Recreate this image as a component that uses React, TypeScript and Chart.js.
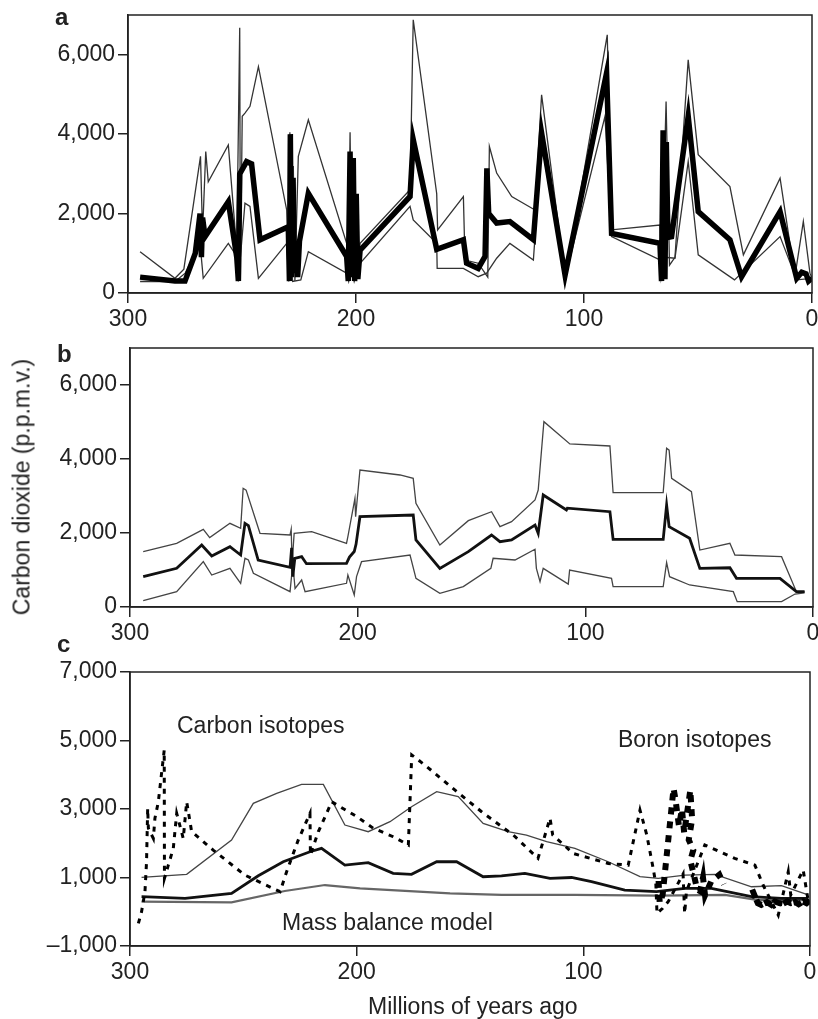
import React, { useEffect, useRef } from "react";
import { Chart, registerables } from "chart.js";
Chart.register(...registerables);

type Pair = [number, number];

// ---- shared axes ----
const X_TICKS = [0, 100, 200, 300];
const Y_TICKS_AB = [0, 2000, 4000, 6000];
const Y_TICKS_C = [-1000, 1000, 3000, 5000, 7000];

// ---- panel a (age Ma, CO2 p.p.m.v.) ----
const A_MID: Pair[] = [[294.7,400],[279.4,300],[275.0,300],[270.5,1000],[268.4,2000],[267.8,900],[267.3,1900],[266.2,1420],[256.0,2300],[252.3,900],[251.6,300],[251.0,3000],[248.0,3310],[245.8,3250],[242.1,1340],[229.7,1670],[229.2,300],[228.8,4000],[228.3,400],[227.6,2900],[227.0,500],[226.3,1200],[225.6,400],[224.8,1300],[220.9,2510],[204.1,920],[203.4,300],[202.6,3560],[201.9,400],[201.2,3400],[200.6,300],[199.9,2500],[199.2,350],[198.2,1080],[176.3,2430],[174.9,3860],[164.6,1100],[152.9,1340],[151.5,750],[146.4,620],[143.4,920],[142.6,3140],[141.8,2000],[138.3,1760],[132.5,1800],[122.2,1340],[118.6,4030],[108.3,450],[90.1,5540],[87.9,1500],[66.7,1250],[66.0,300],[65.3,4100],[64.5,350],[63.9,3800],[63.2,1400],[61.6,1420],[54.3,4450],[49.9,2050],[36.0,1340],[30.9,410],[14.0,2050],[6.7,370],[4.5,520],[2.6,480],[1.5,300],[0,370]];
const A_HI: Pair[] = [[294.7,1040],[279.4,370],[275.5,600],[268.2,3440],[267.3,1500],[265.9,3560],[264.8,2800],[256.0,3730],[252.3,1080],[251.0,6680],[250.7,300],[249.9,4450],[248.7,4530],[246.5,4700],[242.8,5700],[230.4,2090],[229.6,300],[229.0,4050],[228.4,300],[227.5,3200],[226.8,300],[225.3,3440],[220.9,4360],[204.1,1250],[203.5,300],[202.6,4050],[201.8,400],[201.0,3000],[200.2,350],[198.2,1250],[176.3,2600],[174.9,6880],[164.6,2500],[164.2,1590],[152.9,2430],[152.2,830],[146.4,750],[142.2,400],[141.5,3690],[138.3,3020],[131.7,2430],[121.5,2090],[118.6,4990],[108.1,330],[89.8,6500],[87.9,1590],[66.7,1710],[66.1,300],[64.0,4820],[62.5,700],[60.1,900],[54.3,5870],[49.9,3480],[36.0,2680],[30.1,960],[14.0,2890],[7.5,410],[3.8,1800],[0.9,500],[0,380]];
const A_LO: Pair[] = [[294.7,290],[279.4,290],[274.9,500],[268.4,1250],[267.0,370],[256.0,1250],[252.3,920],[251.6,290],[248.7,2260],[246.5,2180],[242.8,370],[230.4,1250],[229.5,290],[228.6,1000],[227.8,290],[224.2,330],[220.9,1040],[204.1,500],[203.2,290],[202.0,600],[200.8,290],[198.2,750],[176.3,2180],[174.9,1840],[164.6,1250],[164.4,620],[152.9,620],[146.4,410],[142.7,500],[138.3,875],[132.5,1250],[122.2,830],[118.6,3770],[108.3,370],[90.8,4450],[87.9,1420],[66.7,830],[66.2,370],[64.5,900],[60.1,875],[54.3,3310],[49.9,960],[34.0,330],[14.0,1420],[6.7,330],[0,370]];

// ---- panel b ----
const B_MID: Pair[] = [[294.2,820],[279.5,1045],[268.5,1676],[264.1,1380],[256.1,1630],[251.4,1405],[249.5,2262],[248.0,2200],[243.7,1270],[229.7,1073],[229.0,1600],[228.5,820],[227.6,1316],[224.6,1360],[222.5,1170],[204.9,1180],[203.6,1350],[201.5,1500],[200.7,1700],[199.0,2440],[175.6,2487],[174.4,1811],[163.9,1045],[151.4,1495],[141.2,1946],[137.5,1766],[132.4,1811],[122.1,2216],[120.7,1992],[118.5,3027],[108.3,2622],[107.9,2670],[89.2,2576],[87.8,1830],[65.8,1830],[64.3,2757],[63.2,2171],[54.2,1856],[49.7,1045],[36.5,1060],[33.6,775],[14.5,775],[7.3,415],[3.7,415]];
const B_HI: Pair[] = [[294.2,1495],[279.5,1721],[267.8,2100],[265.0,1875],[256.1,2262],[251.4,2126],[250.3,3208],[249.0,3160],[242.9,1992],[229.7,1946],[229.2,2100],[228.8,1170],[227.9,1990],[220.2,2036],[204.9,1721],[204.3,1900],[201.2,2937],[200.9,2440],[199.0,3703],[181.4,3568],[175.6,3478],[174.4,2802],[163.9,1676],[151.4,2333],[141.2,2576],[137.5,2171],[132.4,2306],[122.1,2892],[120.7,3162],[118.2,5009],[106.8,4406],[89.2,4352],[87.8,3090],[65.8,3090],[64.3,4290],[63.2,4240],[62.1,3478],[53.4,3117],[49.7,1540],[36.5,1721],[34.3,1405],[13.8,1360],[7.3,415],[3.7,415]];
const B_LO: Pair[] = [[294.2,171],[279.5,415],[267.8,1225],[264.1,865],[256.1,1045],[251.4,640],[249.5,1316],[248.0,1270],[245.8,910],[229.7,415],[228.5,1170],[227.5,500],[224.6,730],[223.1,415],[204.9,640],[204.3,865],[201.5,325],[200.5,820],[198.3,1225],[177.0,1405],[174.4,775],[163.9,370],[153.6,550],[141.5,1045],[140.5,1316],[130.9,1270],[122.1,1560],[121.5,1045],[119.9,685],[118.5,1045],[107.5,621],[106.9,1000],[88.5,775],[87.8,550],[65.8,550],[64.3,1200],[63.0,820],[54.2,595],[35.0,415],[33.3,145],[13.8,145],[7.9,350],[3.7,380]];

// ---- panel c ----
const C_HI: Pair[] = [[294.9,1005],[275.0,1093],[255.2,2094],[245.6,3165],[235.3,3458],[224.3,3720],[214.7,3720],[205.2,2532],[194.9,2337],[185.3,2629],[175.8,3067],[164.7,3505],[155.2,3360],[144.2,2580],[133.2,2337],[125.1,2240],[116.2,2045],[103.7,1850],[89.0,1460],[75.0,1023],[67.0,975],[55.2,1072],[42.0,1093],[25.8,730],[12.6,760],[0.8,490]];
const C_MID: Pair[] = [[294.9,439],[275.7,390],[255.2,536],[243.4,1052],[232.4,1460],[220.6,1753],[215.5,1850],[205.2,1364],[194.9,1432],[183.9,1121],[175.8,1093],[164.7,1460],[155.9,1460],[144.2,1023],[136.1,1050],[125.8,1121],[114.7,975],[105.2,1000],[96.4,877],[81.7,634],[67.7,585],[55.2,684],[43.5,684],[25.8,439],[12.6,390],[0.8,390]];
const C_MASS: Pair[] = [[294.9,293],[255.2,275],[231.7,605],[214.0,780],[198.5,684],[158.8,536],[136.0,490],[103.7,490],[67.0,470],[37.5,490],[22.8,342],[0.8,342]];
const C_CARBON: Pair[] = [[296.3,-340],[294.9,0],[293.4,585],[292.7,1460],[292.2,3020],[291.9,2440],[289.7,2140],[289.0,2730],[287.5,3210],[284.9,4720],[284.8,975],[283.1,1360],[280.9,1850],[279.4,2870],[276.5,2140],[275.0,3210],[272.8,2340],[263.3,1800],[249.3,1070],[233.8,585],[230.9,1170],[225.8,2090],[220.6,2870],[220.4,1660],[216.9,2340],[211.0,3210],[200.0,2780],[192.7,2440],[183.9,2190],[177.2,1950],[175.7,4580],[169.1,4240],[156.6,3550],[144.9,2920],[130.9,2240],[120.0,1560],[116.9,2240],[114.7,2730],[113.5,2240],[104.4,1700],[89.0,1410],[80.2,1360],[75.0,2970],[72.0,2240],[69.2,1270],[68.0,800],[67.5,-50],[65.0,100],[62.5,300],[56.0,1100],[55.3,-50],[54.5,600],[46.4,1950],[33.2,1560],[24.3,1360],[20.7,780],[14.0,-100],[9.6,1170],[8.5,490],[3.0,1220],[1.0,400]];
const C_BORON_EARLY: Pair[] = [[66.8,900],[66.3,250],[65.0,500],[60.2,3600],[59.4,3300],[57.8,2500],[56.5,3000],[55.5,2300],[52.8,3550],[52.0,2700],[53.5,2100],[51.5,1800],[52.8,1500],[50.8,950],[49.8,650],[48.5,600],[47.2,1000],[46.3,480],[43.5,900],[40.0,1080],[38.0,800]];
const C_BORON_LATE: Pair[] = [[25.5,650],[24.0,400],[23.0,250],[21.5,200],[19.0,280],[17.0,200],[15.5,300],[13.5,250],[12.0,230],[10.0,300],[8.5,250],[6.5,280],[5.0,220],[3.0,300],[1.5,250],[0,330]];

const FONT = "'Liberation Sans', Arial, Helvetica, sans-serif";
const W = 818;
const H = 1019;
const INK = "#222";

const pts = (a: Pair[]) => a.map(([x, y]) => ({ x, y }));
const fmt = (v: number) => {
  const s = Math.abs(v).toLocaleString("en-US");
  return v < 0 ? "\u2013" + s : s;
};

const framePlugin = {
  id: "frame",
  afterDraw(chart: any) {
    const { ctx, chartArea: a } = chart;
    ctx.save();
    ctx.strokeStyle = INK;
    ctx.lineWidth = 1.5;
    ctx.strokeRect(a.left, a.top, a.right - a.left, a.bottom - a.top);
    ctx.restore();
  },
};

type Area = { left: number; top: number; right: number; bottom: number };

function line(data: Pair[], color: string, width: number, dash: number[] = [], cap: CanvasLineCap = "butt") {
  return {
    data: pts(data),
    borderColor: color,
    borderWidth: width,
    borderDash: dash,
    borderCapStyle: cap,
    pointRadius: 0,
    fill: false,
    tension: 0,
    borderJoinStyle: "miter" as const,
  };
}

function makeConfig(area: Area, yMin: number, yMax: number, yTicks: number[], datasets: any[]) {
  const yW = 100;
  const xH = 45;
  const grid = {
    display: true,
    drawOnChartArea: false,
    drawTicks: true,
    tickLength: 10,
    color: INK,
    lineWidth: 1.5,
  };
  const tickFont = { family: FONT, size: 23 };
  return {
    type: "line" as const,
    data: { datasets },
    options: {
      animation: false as const,
      responsive: false,
      devicePixelRatio: 1,
      events: [],
      layout: {
        padding: {
          left: area.left - yW,
          top: area.top,
          right: W - area.right,
          bottom: H - area.bottom - xH,
        },
      },
      plugins: { legend: { display: false }, tooltip: { enabled: false } },
      scales: {
        x: {
          type: "linear" as const,
          reverse: true,
          min: 0,
          max: 300,
          afterBuildTicks: (s: any) => {
            s.ticks = X_TICKS.map((v) => ({ value: v }));
          },
          afterFit: (s: any) => {
            s.height = xH;
            s.paddingLeft = 0;
            s.paddingRight = 0;
            s.paddingTop = 0;
            s.paddingBottom = 0;
          },
          grid,
          border: { display: true, color: INK, width: 1.5 },
          ticks: {
            font: tickFont,
            color: INK,
            padding: 3,
            maxRotation: 0,
            autoSkip: false,
            callback: (v: any) => String(v),
          },
        },
        y: {
          type: "linear" as const,
          min: yMin,
          max: yMax,
          afterBuildTicks: (s: any) => {
            s.ticks = yTicks.map((v) => ({ value: v }));
          },
          afterFit: (s: any) => {
            s.width = yW;
            s.paddingLeft = 0;
            s.paddingRight = 0;
            s.paddingTop = 0;
            s.paddingBottom = 0;
          },
          grid,
          border: { display: true, color: INK, width: 1.5 },
          ticks: {
            font: tickFont,
            color: INK,
            padding: 3,
            autoSkip: false,
            callback: (v: any) => fmt(Number(v)),
          },
        },
      },
    },
    plugins: [framePlugin],
  };
}

const AREA_A: Area = { left: 128, top: 15, right: 812, bottom: 293 };
const AREA_B: Area = { left: 130, top: 348, right: 813, bottom: 607 };
const AREA_C: Area = { left: 130, top: 672, right: 810, bottom: 946 };

const txt = (left: number, top: number, size = 23, bold = false): React.CSSProperties => ({
  position: "absolute",
  left,
  top,
  fontFamily: FONT,
  fontSize: size,
  fontWeight: bold ? 700 : 400,
  lineHeight: 1,
  whiteSpace: "nowrap",
  color: INK,
});

export default function App() {
  const ra = useRef<HTMLCanvasElement>(null);
  const rb = useRef<HTMLCanvasElement>(null);
  const rc = useRef<HTMLCanvasElement>(null);

  useEffect(() => {
    const charts: Chart[] = [];
    charts.push(
      new Chart(
        ra.current as HTMLCanvasElement,
        makeConfig(AREA_A, 0, 7000, Y_TICKS_AB, [
          line(A_MID, "#000", 5.5),
          line(A_HI, "#333", 1.3),
          line(A_LO, "#333", 1.3),
        ]) as any
      )
    );
    charts.push(
      new Chart(
        rb.current as HTMLCanvasElement,
        makeConfig(AREA_B, 0, 7000, Y_TICKS_AB, [
          line(B_MID, "#111", 2.8),
          line(B_HI, "#444", 1.3),
          line(B_LO, "#444", 1.3),
        ]) as any
      )
    );
    charts.push(
      new Chart(
        rc.current as HTMLCanvasElement,
        makeConfig(AREA_C, -1000, 7000, Y_TICKS_C, [
          line(C_BORON_EARLY, "#000", 6, [7, 7]),
          line(C_BORON_LATE, "#000", 6, [9, 2]),
          line(C_CARBON, "#000", 3, [5, 6]),
          line(C_MID, "#111", 2.8),
          line(C_HI, "#444", 1.3),
          line(C_MASS, "#666", 2.2),
        ]) as any
      )
    );
    return () => charts.forEach((c) => c.destroy());
  }, []);

  const cv: React.CSSProperties = { position: "absolute", left: 0, top: 0 };

  return (
    <div style={{ position: "absolute", left: 0, top: 0, width: W, height: H, background: "#fff", overflow: "hidden" }}>
      <canvas ref={ra} width={W} height={H} style={cv} />
      <canvas ref={rb} width={W} height={H} style={cv} />
      <canvas ref={rc} width={W} height={H} style={cv} />
      <div style={txt(55, 5, 24, true)}>a</div>
      <div style={txt(57, 342, 24, true)}>b</div>
      <div style={txt(57, 632, 24, true)}>c</div>
      <div style={txt(177, 713.5)}>Carbon isotopes</div>
      <div style={txt(618, 728)}>Boron isotopes</div>
      <div style={txt(282, 910.5)}>Mass balance model</div>
      <div style={txt(368, 995)}>Millions of years ago</div>
      <div
        style={{
          ...txt(22, 487),
          transform: "translate(-50%, -50%) rotate(-90deg)",
        }}
      >
        Carbon dioxide (p.p.m.v.)
      </div>
    </div>
  );
}
